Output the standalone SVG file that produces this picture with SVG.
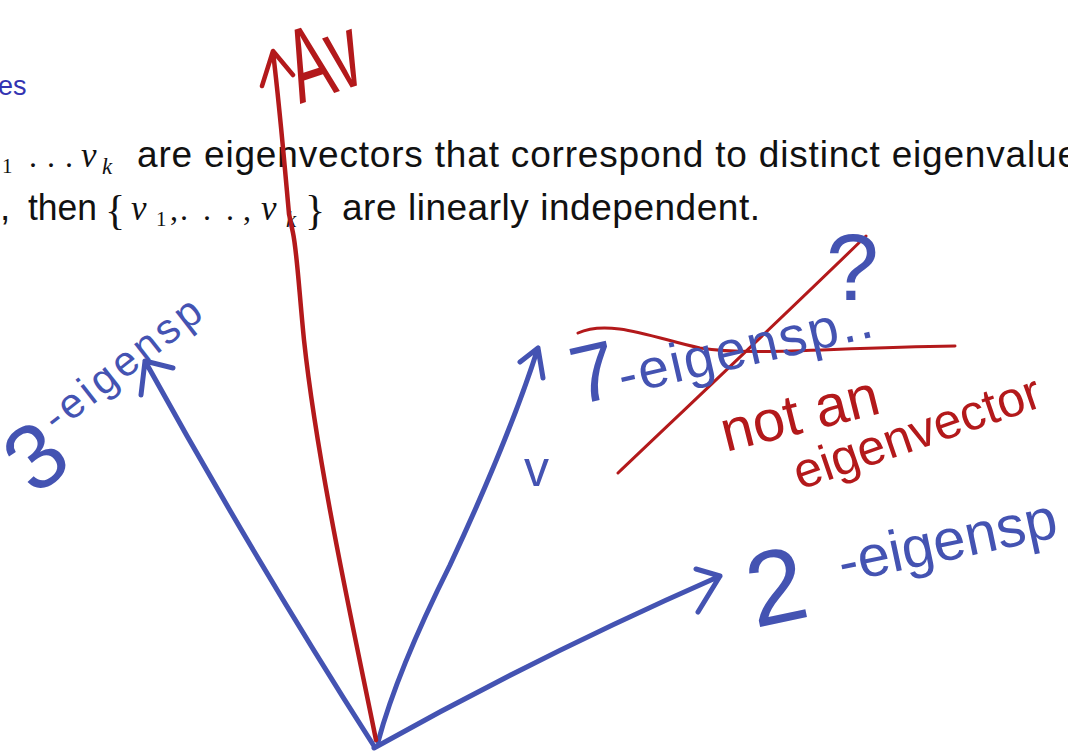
<svg xmlns="http://www.w3.org/2000/svg" width="1068" height="756" viewBox="0 0 1068 756">
<style>
.bg{fill:#ffffff}
.sans{font-family:"Liberation Sans",Arial,sans-serif;fill:#111111}
.math{font-family:"Liberation Serif","Times New Roman",serif;fill:#111111}
.mi{font-family:"Liberation Serif","Times New Roman",serif;font-style:italic;fill:#111111}
.hdr{font-family:"Liberation Sans",Arial,sans-serif;fill:#3333B2}
.hb{font-family:"Liberation Sans",Arial,sans-serif;fill:#4453B2}
.hr{font-family:"Liberation Sans",Arial,sans-serif;fill:#B3191B}
.bl{fill:none;stroke:#4453B2;stroke-width:5;stroke-linecap:round;stroke-linejoin:round}
.rd{fill:none;stroke:#B3191B;stroke-width:4.5;stroke-linecap:round;stroke-linejoin:round}
.rdt{fill:none;stroke:#B3191B;stroke-width:3;stroke-linecap:round;stroke-linejoin:round}
</style>
<rect class="bg" x="0" y="0" width="1068" height="756"/>

<g id="slide-text">
  <text class="hdr" x="-2" y="95" font-size="27">es</text>
  <text class="math" x="2" y="173" font-size="21">1</text>
  <text class="math" font-size="32" y="167"><tspan x="29">.</tspan><tspan x="47">.</tspan><tspan x="65">.</tspan></text>
  <text class="mi" x="81" y="167" font-size="35">v</text>
  <text class="mi" x="102" y="174" font-size="23">k</text>
  <text class="sans" x="137" y="167" font-size="37" textLength="941" lengthAdjust="spacing">are eigenvectors that correspond to distinct eigenvalue</text>

  <text class="sans" x="0" y="220" font-size="37">,</text>
  <text class="sans" x="28" y="220" font-size="37" textLength="69" lengthAdjust="spacingAndGlyphs">then</text>
  <text class="math" x="105" y="224" font-size="42">{</text>
  <text class="mi" x="131" y="220" font-size="35">v</text>
  <text class="math" x="156" y="226" font-size="21">1</text>
  <text class="math" x="170" y="220" font-size="32">,</text>
  <text class="math" font-size="32" y="220"><tspan x="180">.</tspan><tspan x="203">.</tspan><tspan x="226">.</tspan></text>
  <text class="math" x="243" y="220" font-size="32">,</text>
  <text class="mi" x="261" y="220" font-size="35">v</text>
  <text class="mi" x="286" y="227" font-size="23">k</text>
  <text class="math" x="305" y="224" font-size="42">}</text>
  <text class="sans" x="342" y="220" font-size="37" textLength="418" lengthAdjust="spacing">are linearly independent.</text>
</g>

<g id="connectors">
  <!-- blue vector toward 3-eigenspace -->
  <path id="vec-3" class="bl" d="M374,746 Q 255,560 145,361 M141,395 L145,361 L173,368"/>
  <!-- blue vector v toward 7-eigenspace -->
  <path id="vec-v" class="bl" d="M378,742 C 392,690 420,625 450,565 C 485,490 515,420 538,348 M520,362 L538,348 L543,378"/>
  <!-- blue vector toward 2-eigenspace -->
  <path id="vec-2" class="bl" d="M374,748 Q 540,655 720,576 M696,569 L720,576 L698,612"/>
  <!-- red vector Av -->
  <path id="vec-Av" class="rd" d="M376,740 C 356,640 318,470 304,340 C 299,290 297,252 293,233 L 289,214 C 285,170 280,110 273,52 M262,86 L273,51 L293,75"/>
  <!-- red strike-throughs -->
  <path id="strike-h" class="rdt" d="M578,333 C 610,318 660,340 700,348 C 750,356 820,348 955,346"/>
  <path id="strike-d" class="rdt" d="M618,473 C 700,395 790,310 866,236"/>
</g>

<g id="label-Av">
  <text class="hr" font-size="105" transform="translate(300,104) rotate(-18) scale(0.6,1)">Av</text>
</g>

<g id="label-3-eigensp">
  <text class="hb" transform="translate(12,497) rotate(-38)"><tspan x="18" y="14" font-size="92">3</tspan><tspan x="74" y="-23" font-size="42" letter-spacing="4">-eigensp</tspan></text>
</g>

<g id="label-v">
  <text class="hb" x="524" y="486" font-size="50">v</text>
</g>

<g id="label-7-eigensp">
  <text class="hb" transform="translate(578,405) rotate(-13)"><tspan font-size="82">7</tspan><tspan font-size="55" letter-spacing="2">-eigensp..</tspan></text>
</g>

<g id="label-question">
  <text class="hb" x="826" y="300" font-size="95">?</text>
</g>

<g id="label-not-an">
  <text class="hr" font-size="58" transform="translate(726,452) rotate(-14)">not an</text>
</g>

<g id="label-eigenvector">
  <text class="hr" font-size="50" transform="translate(800,490) rotate(-19)">eigenvector</text>
</g>

<g id="label-2-eigensp">
  <text class="hb" transform="translate(755,628) rotate(-12)"><tspan x="0" y="0" font-size="105">2</tspan><tspan x="95" y="-26" font-size="58">-eigensp</tspan></text>
</g>
</svg>
